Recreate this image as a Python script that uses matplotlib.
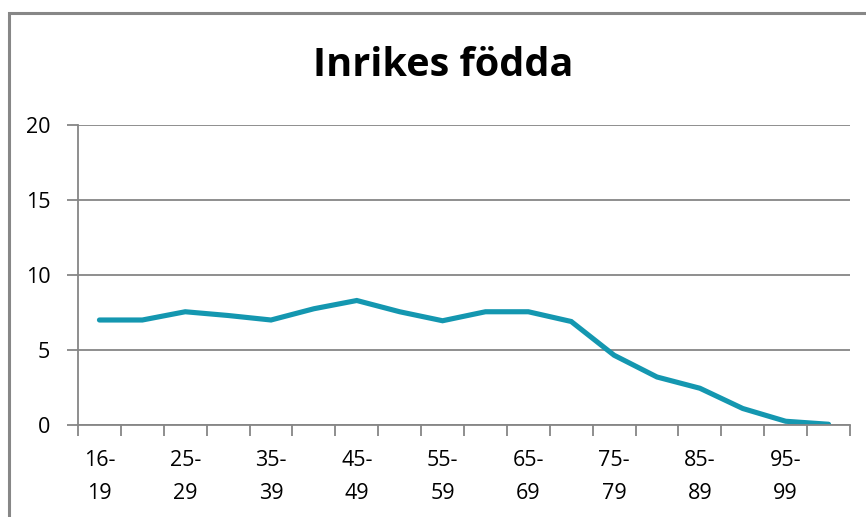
import matplotlib
matplotlib.use("Agg")
import matplotlib.pyplot as plt
from matplotlib.patches import Rectangle
import numpy as np

categories = ["16-19", "20-24", "25-29", "30-34", "35-39", "40-44", "45-49", "50-54",
              "55-59", "60-64", "65-69", "70-74", "75-79", "80-84", "85-89", "90-94",
              "95-99", "100+"]
values = [7.0, 7.0, 7.55, 7.3, 7.0, 7.75, 8.3, 7.55, 6.95, 7.55, 7.55, 6.9,
          4.65, 3.2, 2.45, 1.1, 0.25, 0.05]
yticks = [0, 5, 10, 15, 20]
title = "Inrikes födda"

plt.rcParams['font.family'] = ['Open Sans', 'DejaVu Sans']

W, H = 866, 517
fig = plt.figure(figsize=(W / 100, H / 100), dpi=100)
fig.patch.set_facecolor("white")

# outer chart border
fig.add_artist(Rectangle((9 / W, -0.1), 1.2, 1 - 13 / H + 0.1, transform=fig.transFigure,
                         fill=False, edgecolor="#878787", linewidth=2.2))

ax = fig.add_axes([78 / W, (H - 425) / H, (850 - 78) / W, 300 / H])
x = np.arange(len(categories))
ax.plot(x, values, color="#1497B0", linewidth=3.7, solid_capstyle="round",
        solid_joinstyle="miter")

ax.set_xlim(-0.5, len(categories) - 0.5)
ax.set_ylim(0, 20)
ax.set_yticks(yticks)
ax.set_yticklabels([str(t) for t in yticks])
ax.yaxis.grid(True, color="#868686", linewidth=1.3)
ax.set_axisbelow(True)

labels = [c.replace("-", "-\n") if i % 2 == 0 else "" for i, c in enumerate(categories)]
ax.set_xticks(x)
ax.set_xticklabels(labels, linespacing=1.72)
ax.set_xticks(np.arange(-0.5, len(categories)), minor=True)
ax.tick_params(axis="x", which="major", length=0, pad=18, labelsize=15.5)
ax.tick_params(axis="x", which="minor", length=8, width=1.3, color="#868686", direction="out")
ax.tick_params(axis="y", length=8, width=1.3, color="#868686", pad=12, labelsize=15.5)

for s in ["top", "right"]:
    ax.spines[s].set_visible(False)
for s in ["left", "bottom"]:
    ax.spines[s].set_color("#868686")
    ax.spines[s].set_linewidth(1.3)

fig.text(443 / W, 1 - 65 / H, title, ha="center", va="center", fontsize=28.5,
         fontweight="bold")

fig.savefig("out.png", dpi=100)
